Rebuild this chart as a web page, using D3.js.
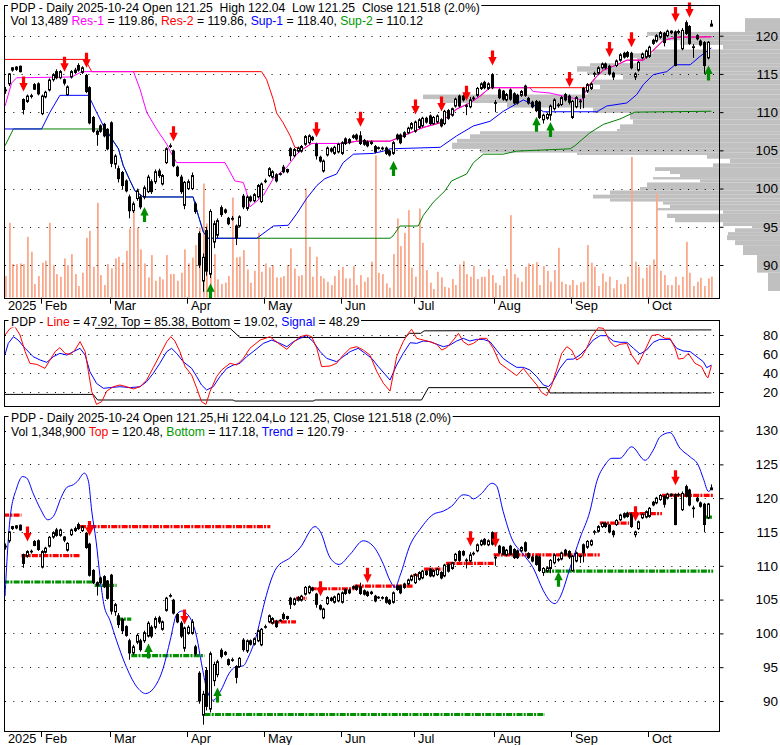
<!DOCTYPE html>
<html>
<head>
<meta charset="utf-8">
<script src="https://cdn.jsdelivr.net/npm/d3@7/dist/d3.min.js"></script>
<style>
html,body{margin:0;padding:0;background:#fff;}
svg{display:block;}
text{font-family:"Liberation Sans",Arial,Helvetica,sans-serif;white-space:pre;}
</style>
</head>
<body>
<svg id="chart" width="780" height="745" xmlns="http://www.w3.org/2000/svg"></svg>
<script>
// ---------------- DATA ----------------
const firstDate = "2025-01-17";
const marketHolidays = ["2025-01-20","2025-02-17","2025-04-18","2025-05-26","2025-06-19","2025-07-04","2025-09-01"];

const openP = [
112.8,113.7,115.5,115.9,116.0,111.65,111.4,112.05,113.6,113.7,
109.8,112.0,112.9,114.25,115.3,114.5,114.25,112.3,114.6,115.5,
116.1,115.2,114.8,113.2,109.3,107.5,108.2,108.4,107.75,108.6,
103.2,102.6,102.1,101.0,98.9,97.1,98.7,98.9,98.9,99.6,
100.9,100.9,102.3,100.6,103.4,105.5,104.9,102.8,101.5,97.8,
100.0,100.0,98.0,94.1,87.9,94.5,88.8,93.0,93.9,97.5,
97.2,96.1,96.0,95.1,95.1,99.0,97.4,98.9,98.4,98.9,
98.3,100.9,101.7,101.5,101.8,101.85,102.8,102.5,105.2,104.3,
104.9,104.9,105.8,106.0,106.7,105.8,104.1,102.3,104.4,105.2,
104.6,104.8,104.6,106.5,106.4,106.9,107.0,106.9,106.3,106.1,
106.1,105.5,105.25,105.3,105.3,104.9,104.6,107.0,107.0,107.3,
107.3,107.9,107.5,108.0,108.2,109.2,109.5,108.5,108.7,109.0,
108.5,110.2,109.6,110.8,112.1,112.1,110.75,110.7,111.75,112.2,
113.1,113.9,113.1,114.9,111.15,112.9,112.75,111.6,112.9,112.4,
112.2,112.2,113.4,111.8,111.3,111.4,111.3,109.0,109.2,109.6,
110.45,110.85,111.0,112.3,112.1,109.3,110.7,111.35,113.1,112.75,
113.1,114.95,115.1,115.8,116.3,116.0,115.1,116.1,116.8,117.7,
117.8,117.7,114.6,115.5,117.1,117.2,117.3,119.4,119.3,119.8,
120.3,120.0,120.6,120.5,120.45,118.3,121.7,121.2,118.45,120.0,
119.3,119.1,117.1,121.25];
const highP = [
113.3,115.1,115.9,116.0,116.1,111.8,112.3,112.4,113.8,113.9,
112.3,112.8,114.4,115.1,115.6,115.5,114.4,113.5,115.5,115.8,
116.4,116.0,115.0,113.4,109.5,107.7,108.4,108.6,107.9,108.8,
104.5,103.0,102.3,101.2,99.2,98.3,100.0,99.2,100.4,101.8,
101.2,102.5,102.6,101.9,105.4,105.9,105.1,103.0,101.8,101.0,
101.2,102.1,98.3,94.4,91.5,95.0,97.3,95.8,96.1,97.8,
97.4,96.3,96.4,95.3,96.5,99.3,99.1,99.1,99.4,100.6,
100.8,101.3,102.8,102.4,102.0,102.1,103.1,102.6,105.4,105.3,
105.5,105.7,107.0,107.1,106.9,106.0,104.3,103.8,105.5,105.4,
105.6,106.0,106.2,106.7,106.6,107.1,107.2,107.5,106.5,106.3,
106.3,105.7,105.5,105.5,105.5,105.1,106.2,107.2,107.2,107.5,
108.1,108.7,108.9,109.2,109.4,109.4,109.7,109.5,109.7,109.2,
110.3,110.4,110.6,111.9,112.3,112.3,111.1,112.0,112.1,113.3,
113.9,114.1,113.9,115.1,111.6,113.1,112.9,112.5,113.1,112.6,
112.4,112.9,113.6,112.0,111.5,111.6,111.5,109.8,109.9,111.0,
111.8,111.2,112.1,112.5,112.3,111.6,112.1,111.7,113.3,113.8,
113.9,115.3,116.0,116.5,116.5,116.2,115.3,116.9,117.7,117.9,
118.0,117.9,115.2,116.7,117.8,118.2,118.7,119.6,120.2,120.6,
120.5,120.8,120.7,120.7,120.8,121.0,122.0,121.4,118.9,120.2,
119.5,119.3,119.3,122.04];
const lowP = [
112.4,113.4,115.3,115.4,115.2,109.7,111.2,111.8,112.9,112.2,
109.6,111.8,112.7,114.0,114.3,114.3,113.5,112.1,114.4,115.0,
115.3,115.0,112.5,108.4,107.3,105.6,107.3,106.7,105.0,102.8,
102.6,100.8,99.9,99.5,96.1,96.8,98.4,97.3,98.6,99.4,
99.3,100.6,101.4,100.4,103.2,105.3,102.8,101.5,99.3,97.3,
99.8,99.8,96.7,89.6,86.5,88.6,88.3,92.2,93.5,96.3,
96.7,95.2,95.8,92.6,94.9,97.3,97.1,98.2,98.2,98.7,
98.1,100.7,101.5,101.3,100.8,101.7,102.0,102.0,103.6,104.1,
104.7,104.7,105.6,105.8,106.2,103.8,103.4,102.1,104.2,104.7,
104.4,104.6,104.4,105.7,105.8,106.5,106.3,105.7,105.6,105.4,
105.7,104.6,105.1,105.0,104.4,104.2,104.4,106.3,105.8,106.6,
107.1,107.7,107.3,107.8,108.0,108.5,108.3,108.3,108.5,108.0,
108.3,109.0,109.4,110.6,110.6,111.4,109.6,110.5,111.5,112.0,
112.9,113.0,112.9,113.0,110.0,111.7,111.5,111.4,111.5,111.0,
111.0,112.0,112.0,111.0,110.5,110.0,109.1,108.5,109.0,108.9,
110.2,110.6,110.8,111.4,111.0,109.1,110.5,110.4,110.5,112.5,
112.9,114.6,114.9,115.6,115.6,114.8,114.2,115.9,116.6,117.0,
117.1,115.6,114.2,115.3,116.9,117.0,117.1,118.8,119.1,119.6,
118.6,119.8,120.2,116.0,120.2,118.1,120.1,118.8,117.1,119.4,
118.6,115.0,116.9,121.25];
const closeP = [
112.9,115.0,115.8,115.6,115.3,110.35,112.1,112.15,113.0,112.4,
112.1,112.6,114.2,114.9,114.5,115.3,113.8,113.3,115.3,115.2,
115.5,115.8,112.7,108.6,107.5,107.1,107.5,106.9,105.2,103.3,
104.25,101.3,100.4,99.7,97.1,98.0,99.7,97.6,100.1,101.5,
99.6,102.2,101.7,101.7,105.2,105.6,103.0,101.7,99.6,100.8,
100.9,101.7,97.0,90.0,91.0,89.2,97.0,95.4,95.8,96.6,
96.9,95.4,96.1,93.5,96.3,97.6,98.9,98.4,99.2,100.4,
100.6,101.0,102.6,102.2,101.0,101.95,102.2,102.2,104.3,105.1,
105.3,105.5,106.8,106.9,106.4,104.3,103.6,103.6,105.3,104.9,
105.4,105.8,106.0,105.9,106.0,106.7,106.5,105.9,105.8,105.6,
105.9,104.8,105.35,105.2,104.6,104.4,106.0,106.5,106.0,106.8,
107.9,108.5,108.7,109.0,109.2,108.7,108.5,109.3,109.5,108.2,
110.1,109.2,110.45,111.7,110.8,111.6,110.85,111.6,111.85,113.1,
113.7,113.2,113.7,113.2,111.25,111.9,111.7,112.3,111.7,111.2,
111.2,112.7,112.2,111.2,110.7,110.2,109.3,109.6,109.7,110.8,
111.6,110.95,111.9,111.6,111.3,111.4,111.9,111.45,111.9,113.6,
113.7,115.05,115.8,116.3,115.8,115.0,114.6,116.7,117.5,117.2,
117.3,115.8,115.0,116.5,117.6,118.0,118.5,119.0,120.0,120.4,
119.1,120.6,120.4,116.1,120.55,120.7,120.3,119.0,118.55,119.6,
118.8,116.1,119.14,121.518];
// volume, thousands of shares
const volumeK = [
1385,4793,2151,2151,2194,2151,3898,2939,873,1385,
2237,2364,4793,2087,1512,1342,2513,2087,2790,1512,
746,1598,3834,4281,1981,6071,1448,809,2151,1874,
2513,2620,2237,3003,4430,5495,4494,3089,2194,1299,
2726,1086,1342,1172,2726,1512,1512,1086,1598,3089,
2194,2556,3365,4494,7306,4750,5495,2790,1172,873,
959,1385,6411,2577,2620,3046,1811,959,1725,4154,
1661,2194,1938,2087,1299,1299,1385,2087,3152,1874,
1385,1448,6986,3259,1342,2620,1385,1235,1022,809,
1385,1768,1981,1235,1235,2024,809,1448,1022,1299,
2300,9116,1598,1512,916,
639,2790,5069,3302,4154,5602,1917,1342,5708,3515,
1768,959,554,1661,1299,703,639,1193,809,2130,
2343,1512,1342,2024,1193,1342,1342,1832,1448,959,
809,1385,1832,5282,1512,1278,1022,1981,2194,2151,
2279,809,2024,1725,1022,1768,3195,1022,873,809,
1129,809,980,1022,3365,2237,1981,746,1555,1022,
1342,596,1129,873,873,1342,9010,2300,1981,1235,
1938,2087,2450,6667,1725,1448,809,809,1342,809,
1342,3578,1598,746,1022,1278,746,1235,1349];

// volume-by-price profile: price edges (descending) and relative volume per band
const profileEdges = [122.3,120.5,120.0,119.4,118.8,118.2,117.7,117.1,116.4,116.0,115.3,114.9,114.25,113.6,113.0,112.3,111.7,111.2,110.6,109.9,109.05,108.4,107.8,107.5,107.1,106.5,106.0,105.2,104.7,104.4,103.9,103.3,102.8,102.3,101.9,101.5,101.2,100.8,100.2,99.75,99.2,98.7,98.3,97.9,97.45,97.15,96.7,96.15,95.6,95.1,94.8,94.3,93.9,93.25,92.6,91.3,89.0,86.6];
const profileVol = [35,133,123,100,57,127,150,143,190,203,193,157,187,180,192,357,337,273,187,150,147,160,163,300,310,323,328,300,203,73,50,67,125,110,100,127,80,133,140,170,187,170,117,110,123,57,113,105,57,28,45,52,53,45,37,23,12];

// support / resistance lines, [bar index, price]
const res2Line = [[0,116.9],[21.9,116.9],[23.7,115.3],[70.1,115.3],[71.5,114.25],[73.3,111.65],[74.2,109.9],[76,108.6],[77.9,106.9],[79.2,105.4],[81.5,105.2],[83.8,105.9],[92.4,105.9],[96.1,106.2],[105.2,106.2],[109.8,107.1],[114.3,108],[118.9,108.6],[123.4,110.4],[127,111.2],[129.8,112.1],[132.5,113.2],[158.9,113.2],[161.7,114.7],[163.5,115.5],[167.2,116.2],[169.9,116.8],[174.4,116.8],[177.1,118.1],[179.9,119.4],[183.5,119.8],[193,119.86]];
const res1Line = [[0,110.8],[1.8,113.8],[3.2,114.5],[18.2,114.6],[21,115.3],[35.1,115.3],[36.9,113],[38.7,110],[41.4,107.8],[44.2,105.8],[45.1,104.9],[46.9,103.4],[60.1,103.4],[62.8,101],[65.1,100.8],[66,99.5],[66.9,97.6],[70.6,99.1],[73.3,101.3],[77,102.8],[79.7,104.5],[81.5,105.2],[83.8,105.9],[92.4,105.9],[96.1,106.2],[105.2,106.2],[109.8,107.1],[114.3,108],[118.9,108.6],[123.4,110.4],[127,111.2],[129.8,112.1],[132.5,113.2],[143.4,113.2],[144.3,112.7],[148.9,112.5],[152.5,112.1],[157.6,111.6],[158.9,113],[161.7,114.7],[163.5,115.5],[167.2,116.2],[169.9,116.8],[174.4,116.8],[177.1,118.1],[179.9,119.4],[183.5,119.8],[193,119.86]];
const sup1Line = [[0,107.8],[10,107.8],[12.3,110],[15,112.2],[22.8,112.2],[25,110],[26.9,108.2],[29.6,106.2],[31,105.2],[32.3,103],[34.2,101],[35.5,99.7],[37.8,98.9],[51.4,98.9],[52.8,96.5],[54.2,94.3],[55.5,93.5],[68.8,93.5],[73.3,95.1],[77.4,95.2],[79.7,96.7],[82.4,98.7],[85.2,100.4],[87.4,101.3],[90.6,101.9],[92.4,103.4],[95.2,104.5],[100.6,104.6],[103.4,104.9],[105.2,105.2],[118.9,105.4],[123.4,106.9],[128,108.2],[132.5,108.8],[136.1,110.1],[141.6,111.6],[144.3,111],[147.1,110.05],[161.7,110.05],[164.4,110.8],[169.9,111.2],[172.6,112.3],[174.4,113.6],[177.1,114.9],[180.8,115.3],[183.1,116.2],[187.2,116.2],[189.9,117.3],[193,118.4]];
const sup2Line = [[0,105.6],[2.3,107.8],[27.6,107.8],[29.6,106.2],[31,105.2],[32.3,103],[34.2,101],[35.5,99.7],[37.8,98.9],[51.4,98.9],[52.8,96.5],[54.2,94.3],[55.5,93.5],[105.2,93.5],[106,93.8],[107.9,95.1],[112.9,95.1],[114.3,96.5],[117,98.2],[120.2,99.7],[122,101],[126.1,101.9],[128,103.4],[130.7,104.5],[136.1,104.5],[139.8,104.9],[154.4,105.2],[155.7,105.6],[159.8,107.3],[163.5,108.4],[168,109.1],[172.1,110],[193,110.12]];

// signals, [bar index, price at arrow tip]
const topSellSignals = [[5,112.7],[16,115.3],[22,115.8],[46,106.2],[85,106.7],[97,108.1],[112,109.7],[119,110.1],[126,111.5],[133,116.1],[154,113.3],[165,117.2],[171,118.5],[183,121.8],[187,122.4]];
const topBuySignals = [[38,97.6],[56,87.6],[106,103.6],[145,109.4],[149,108.7],[192,116.1]];
const botSellSignals = [[6,113.6],[23,114.4],[49,101.3],[86,105.5],[99,107.5],[127,112.9],[134,112.75],[172,116.6],[183,121.9]];
const botBuySignals = [[39,98.5],[58,92.0],[151,109.1]];

// oscillator panel, [bar index, value]
const oscLine = [[0,80],[1.4,87],[2.7,88.8],[4.1,80],[5.5,62.5],[6.8,50.2],[8.7,49.1],[10.9,44.9],[12.3,53.7],[13.7,62.5],[15,66.7],[16.4,60.7],[17.8,59.6],[19.1,64.2],[20.5,73],[21.9,62.5],[22.8,41.4],[23.7,20.4],[25,7],[26.4,9.8],[27.8,21],[29.6,25.6],[31.4,27.4],[33.2,25.6],[35.1,23.2],[36.9,25.6],[38.7,32.6],[40.5,45.6],[42.3,58.9],[44.2,73],[45.3,78.2],[46.4,73.7],[47.8,62.5],[49.2,46.7],[51,37.9],[52.4,23.9],[53.7,9.8],[54.9,7],[56,20.4],[57.8,36.1],[59.2,43.2],[61.5,50.2],[63.3,48.4],[65.1,55.4],[66.9,66],[69.7,74.7],[72.4,78.2],[74.7,71.2],[77,64.9],[78.8,72.3],[80.6,78.2],[82.4,80],[83.8,78.2],[85.2,66],[86.5,46.7],[88.8,47.4],[90.6,50.2],[92.4,58.9],[94.3,66],[96.1,67.7],[97.9,64.2],[99.7,58.9],[101.6,41.4],[103.4,29.1],[105.2,21],[107,57.2],[108.8,73],[110.2,81.8],[111.1,86],[112.5,76.5],[114.3,74.7],[116.1,73],[118,70.2],[119.3,64.2],[120.7,66.7],[122.5,74.7],[123.9,81.8],[125.2,73],[126.6,69.5],[128,71.2],[129.8,76.5],[131.6,76.5],[133.4,66],[135.2,50.2],[137.1,44.9],[139.8,37.2],[141.6,44.9],[143.4,36.1],[145.3,27.4],[146.6,19.6],[148,16.1],[149.4,27.4],[150.7,43.2],[152.1,60.7],[153.5,67.7],[154.8,64.2],[156.2,53.7],[157.6,57.2],[158.9,66],[160.3,78.2],[162.1,87.7],[163.5,87],[165.3,73],[166.7,67.7],[168,70.2],[169.9,71.2],[171.2,58.9],[173,49.1],[174.9,64.2],[176.7,79.3],[178.5,80.7],[180.3,76.5],[181.7,76.5],[183.1,66],[184,54.7],[185.3,55.4],[186.7,60.7],[188.5,50.2],[190.3,46.7],[191.7,36.1],[192.1,35.1],[193,47.92]];
const oscSignal = [[0,59.6],[0.9,71.2],[2.3,78.2],[3.6,74.7],[5.5,66],[7.7,57.2],[9.6,53.7],[11.4,51.2],[13.2,57.2],[15,60.7],[16.9,58.9],[18.7,62.5],[20.5,66],[21.9,58.9],[23.2,41.4],[25,29.1],[26.9,23.9],[28.7,24.6],[31.4,25.6],[34.2,24.6],[36.9,25.6],[38.7,30.9],[40.5,39.6],[42.3,50.2],[44.2,62.5],[45.5,66],[46.9,60.7],[48.7,51.9],[51,44.9],[52.4,36.1],[53.7,27.4],[55.1,22.1],[56.9,25.6],[58.7,36.1],[60.6,44.9],[62.4,48.4],[64.2,50.2],[66,57.2],[67.8,62.5],[70.6,71.2],[72.9,74.7],[75.1,71.2],[77,67.7],[78.8,73],[80.6,76.5],[82.4,79.3],[84.2,73],[86.1,62.5],[87.9,55.4],[90.6,51.9],[92.4,57.2],[94.3,62.5],[96.5,66],[98.4,60.7],[100.2,55.4],[102,46.7],[105.2,32.6],[107,48.4],[108.8,60.7],[110.7,71.9],[112.5,71.2],[114.3,73.7],[116.1,73],[118,70.2],[119.8,67.7],[121.6,69.5],[123.4,73.7],[125.2,76.5],[127,73.7],[128.9,75.4],[130.7,75.4],[132.5,73],[134.3,64.2],[136.1,55.4],[138,50.2],[139.8,46],[141.6,46],[143.4,43.2],[145.3,36.1],[147.1,27.4],[148.5,25.6],[149.8,31.6],[151.6,44.9],[153.5,54.4],[155.3,54.7],[157.1,58.9],[158.9,66],[160.7,74.7],[162.6,79.3],[164.4,79.3],[166.2,73.7],[168,72.3],[169.9,72.3],[171.7,66],[173.5,60],[175.3,64.2],[177.1,72.3],[178.9,75.4],[181.7,75.4],[183.5,66],[185.3,63.2],[187.2,62.5],[189,57.2],[190.8,51.9],[191.7,45.6],[193,48.29]];
const oscTop = [[24.6,87],[61.5,87],[64.2,77.4],[109.3,77.4],[110.5,81.8],[113.6,81.8],[114.5,84.4],[193,85.38]];
const oscBottom = [[0,17.5],[24.1,17.5],[25.3,11.6],[62.3,11.6],[62.8,10.5],[84.2,10.5],[84.7,11.6],[113.8,11.6],[115.7,24.6],[148,24.6],[148.9,19.02],[193,19.02]];

// lower panel: trend curve and top/bottom levels [start bar, end bar, price]
const trendLine = [[0,105.5],[1.4,117.1],[3.2,121.5],[4.8,123.2],[5.9,123],[7.7,120.7],[9.6,118.5],[11.7,116.8],[13.2,117.3],[15.5,120.3],[16.9,121.6],[18.7,122],[19.8,122.5],[21.7,123.7],[22.8,122.5],[23.7,118.1],[24.9,113.6],[26,108.2],[27,104.3],[28.7,101.9],[30.5,98.9],[32.8,95.5],[36,92.1],[38.4,91.1],[40.5,91.8],[43.3,95],[45.1,98.9],[46.9,102.8],[48.3,103.3],[50.5,102.35],[52.4,99.4],[53.7,95.5],[55.1,91.8],[56.9,90.1],[58.7,91.3],[61.5,94.3],[62.8,95],[65.1,95.2],[66.5,96.5],[68.8,99.9],[70.1,102.8],[71,104.8],[74.2,109.7],[77.9,111.2],[80.6,112.65],[84.7,115.8],[86.1,115.1],[88.8,111.2],[91.3,110.2],[94.3,111.7],[97.9,113.7],[100.6,112.9],[103.4,110.2],[105.2,107.8],[106.6,106.8],[107.9,108.5],[110.7,113.1],[113.4,115.4],[117,117.6],[119.8,118.1],[122,118.8],[125.2,120.5],[126.6,120.4],[128,119.9],[130.2,120.7],[133,122.2],[134.2,121.9],[136.1,118.05],[138.4,114.1],[141.6,111.7],[144.3,109.7],[147.1,106.3],[148.9,104.8],[150.3,104.4],[151.6,105.3],[154.4,109.7],[157.1,114.1],[159.8,118.05],[161.7,122.5],[163.9,124.9],[165.8,125.9],[168,125.9],[171.2,127.6],[174.9,125.6],[177.1,127.1],[179,129.1],[181.7,129.7],[184.4,127.4],[187.2,126.1],[189.4,124.9],[190.8,122.9],[192.2,121.0],[193,121.4]];
const topLevels = [[0,4,117.5],[5,20,111.5],[21,72,115.8],[73,79,101.7],[80,82,105.2],[84,95,106.6],[96,111,107.0],[112,114,108.6],[115,119,109.5],[121,133,110.35],[134,162,111.6],[163,170,116.3],[171,179,117.7],[180,193,120.4]];
const bottomLevels = [[0,24,107.6],[25,30,107.1],[31,34,102.1],[35,54,96.7],[55,147,88.0],[148,193,109.2],[192,193,117.2]];

const topPriceTicks = [90,95,100,105,110,115,120];
const oscTicks = [20,40,60,80];
const botPriceTicks = [90,95,100,105,110,115,120,125,130];

const topTitle1 = [["PDP - Daily 2025-10-24 Open 121.25  High 122.04  Low 121.25  Close 121.518 (2.0%)","#000"]];
const topTitle2 = [["Vol 13,489 ","#000"],["Res-1","#ff00ff"],[" = 119.86, ","#000"],["Res-2","#ff0000"],[" = 119.86, ","#000"],["Sup-1","#0000ff"],[" = 118.40, ","#000"],["Sup-2","#009900"],[" = 110.12","#000"]];
const midTitle = [["PDP - ","#000"],["Line","#ff0000"],[" = 47.92, Top = 85.38, Bottom = 19.02, ","#000"],["Signal","#0000ff"],[" = 48.29","#000"]];
const botTitle1 = [["PDP - Daily 2025-10-24 Open 121.25,Hi 122.04,Lo 121.25, Close 121.518 (2.0%)","#000"]];
const botTitle2 = [["Vol 1,348,900 ","#000"],["Top","#ff0000"],[" = 120.48, ","#000"],["Bottom","#009900"],[" = 117.18, ","#000"],["Trend","#0000ff"],[" = 120.79","#000"]];

// ---------------- BUILD ----------------
const FONT = '"Liberation Sans", Arial, Helvetica, sans-serif';
const N = closeP.length;
const bars = closeP.map((c,i)=>({i, o:openP[i], h:highP[i], l:lowP[i], c, v:volumeK[i]}));

// trading calendar
const dates = (()=>{
  const out=[]; let d=new Date(firstDate+"T00:00:00Z");
  const hol=new Set(marketHolidays);
  while(out.length<N){
    const iso=d.toISOString().slice(0,10), wd=d.getUTCDay();
    if(wd!==0&&wd!==6&&!hol.has(iso)) out.push(new Date(d));
    d=new Date(d.getTime()+86400000);
  }
  return out;
})();

const L=4, R=719;
const PT={y0:5,y1:297.7}, PM={y0:320,y1:405.7}, PB={y0:415.7,y1:731};
const x = d3.scaleLinear().domain([0,N-1]).range([5,711.4]);
const yT = d3.scaleLinear().domain([85.72,124.02]).range([PT.y1,PT.y0]);
const yM = d3.scaleLinear().domain([5.6,95.8]).range([PM.y1,PM.y0]);
const yB = d3.scaleLinear().domain([85.56,132.2]).range([PB.y1,PB.y0]);
const yV = d3.scaleLinear().domain([0,9600]).range([PT.y1,PT.y1-150]);
const xProf = d3.scaleLinear().domain([0,400]).range([780,380]);

const svg = d3.select("#chart");
const defs = svg.append("defs");
[["clipT",PT],["clipM",PM],["clipB",PB]].forEach(([id,p])=>{
  defs.append("clipPath").attr("id",id).append("rect").attr("x",L).attr("y",p.y0).attr("width",R-L).attr("height",p.y1-p.y0);
});

function grid(g, scale, vals){
  g.selectAll("line.grid").data(vals).join("line").attr("class","grid")
    .attr("x1",L+1).attr("x2",R).attr("y1",d=>Math.round(scale(d))+0.5).attr("y2",d=>Math.round(scale(d))+0.5)
    .attr("stroke","#000").attr("stroke-width",1).attr("stroke-dasharray","1,7.33");
}
function lineOf(g, data, yS, color, curve, width){
  g.append("path").datum(data)
   .attr("d", d3.line().x(d=>x(d[0])).y(d=>yS(d[1])).curve(curve||d3.curveLinear))
   .attr("fill","none").attr("stroke",color).attr("stroke-width",width||1);
}
function candles(g, yS){
  const cg = g.selectAll("g.c").data(bars).join("g").attr("class","c");
  cg.append("line").attr("x1",d=>Math.round(x(d.i))+0.5).attr("x2",d=>Math.round(x(d.i))+0.5)
    .attr("y1",d=>yS(d.h)).attr("y2",d=>yS(d.l)).attr("stroke","#000").attr("stroke-width",1);
  cg.append("rect").attr("x",d=>Math.round(x(d.i))-0.5).attr("width",2)
    .attr("y",d=>yS(Math.max(d.o,d.c))).attr("height",d=>Math.max(0,yS(Math.min(d.o,d.c))-yS(Math.max(d.o,d.c))))
    .attr("fill",d=>d.c>=d.o?"#fff":"#000").attr("stroke","#000").attr("stroke-width",1);
}
const downArrow="M0,0 L-4.2,-8.5 L-1.6,-8.5 L-1.6,-15 L1.6,-15 L1.6,-8.5 L4.2,-8.5 Z";
const upArrow="M0,0 L-4.2,8.5 L-1.6,8.5 L-1.6,15 L1.6,15 L1.6,8.5 L4.2,8.5 Z";
function arrows(g, data, yS, path, color){
  g.selectAll(null).data(data).join("path").attr("d",path)
   .attr("transform",d=>`translate(${Math.round(x(d[0]))+0.5},${yS(d[1])})`).attr("fill",color);
}
function frame(p){
  svg.append("rect").attr("x",L+0.5).attr("y",Math.round(p.y0)+0.5).attr("width",R-L)
    .attr("height",Math.round(p.y1)-Math.round(p.y0)).attr("fill","none").attr("stroke","#000").attr("stroke-width",1);
}
function rightAxis(scale, vals){
  const g = svg.append("g").attr("transform",`translate(${R+0.5},0)`)
    .call(d3.axisRight(scale).tickValues(vals).tickSize(4).tickFormat(d3.format("d")));
  g.select(".domain").remove();
  g.attr("font-family",FONT).attr("font-size",13.5);
  g.selectAll(".tick line").attr("stroke","#000");
  g.selectAll(".tick text").attr("x",58.5).attr("text-anchor","end").attr("fill","#000");
}
function title(parts, xPos, yPos, cover){
  const t = svg.append("text").attr("x",xPos).attr("y",yPos).attr("font-size",12.2).attr("font-family",FONT);
  t.selectAll("tspan").data(parts).join("tspan").text(d=>d[0]).attr("fill",d=>d[1]);
  if(cover){
    const w = t.node().getComputedTextLength();
    svg.insert("rect", function(){return t.node();}).attr("x",xPos-2.5).attr("y",yPos-10).attr("width",w+4).attr("height",12).attr("fill","#fff");
  }
}
function monthAxis(yBase, yLabel){
  const g = svg.append("g");
  const starts = bars.filter(d=>d.i>0 && dates[d.i].getUTCMonth()!==dates[d.i-1].getUTCMonth());
  g.selectAll("line").data(starts).join("line")
    .attr("x1",d=>Math.round(x(d.i))-0.5).attr("x2",d=>Math.round(x(d.i))-0.5)
    .attr("y1",yBase).attr("y2",yBase+6).attr("stroke","#000");
  g.selectAll("text.m").data(starts).join("text").attr("class","m")
    .attr("x",d=>Math.round(x(d.i))+3).attr("y",yLabel).attr("font-size",12.8).attr("font-family",FONT)
    .text(d=>d3.utcFormat("%b")(dates[d.i]));
  g.append("text").attr("x",8).attr("y",yLabel).attr("font-size",12.8).attr("font-family",FONT)
    .text(d3.utcFormat("%Y")(dates[0]));
}

// ---- top panel ----
const gProf = svg.append("g");
gProf.selectAll("rect").data(profileVol).join("rect")
  .attr("x",d=>xProf(d)).attr("width",d=>780-xProf(d))
  .attr("y",(d,i)=>yT(profileEdges[i])).attr("height",(d,i)=>yT(profileEdges[i+1])-yT(profileEdges[i]))
  .attr("fill","#c0c0c0");
const gT = svg.append("g").attr("clip-path","url(#clipT)");
gT.selectAll("rect.v").data(bars).join("rect").attr("class","v")
  .attr("x",d=>Math.round(x(d.i))).attr("width",1.8)
  .attr("y",d=>yV(d.v)).attr("height",d=>PT.y1-yV(d.v)).attr("fill","#fba98c");
grid(gT, yT, topPriceTicks);
lineOf(gT, sup2Line, yT, "#008000");
lineOf(gT, sup1Line, yT, "#0000ff");
lineOf(gT, res2Line, yT, "#ff0000");
lineOf(gT, res1Line, yT, "#ff00ff");
candles(gT, yT);
arrows(svg, topSellSignals, yT, downArrow, "#ff0000");
arrows(svg, topBuySignals, yT, upArrow, "#008c00");
frame(PT);
rightAxis(yT, topPriceTicks);
monthAxis(PT.y1, 310);

// ---- middle panel ----
const gM = svg.append("g").attr("clip-path","url(#clipM)");
grid(gM, yM, oscTicks);
lineOf(gM, oscTop, yM, "#000");
lineOf(gM, oscBottom, yM, "#000");
lineOf(gM, oscSignal, yM, "#0000ff");
lineOf(gM, oscLine, yM, "#ff0000");
frame(PM);
rightAxis(yM, oscTicks);

// ---- bottom panel ----
const gB = svg.append("g").attr("clip-path","url(#clipB)");
grid(gB, yB, botPriceTicks);
function levels(data, color){
  gB.selectAll(null).data(data).join("line")
    .attr("x1",d=>x(d[0])-1.8).attr("x2",d=>x(d[1])+1.8).attr("y1",d=>yB(d[2])).attr("y2",d=>yB(d[2]))
    .attr("stroke",color).attr("stroke-width",3.2).attr("stroke-dasharray","6,1.2,2,1.2");
}
levels(bottomLevels, "#009000");
levels(topLevels, "#ff0000");
lineOf(gB, trendLine, yB, "#0000ff", d3.curveMonotoneX);
candles(gB, yB);
arrows(svg, botSellSignals, yB, downArrow, "#ff0000");
arrows(svg, botBuySignals, yB, upArrow, "#008c00");
frame(PB);
rightAxis(yB, botPriceTicks);
monthAxis(PB.y1, 742.5);

// ---- titles ----
title(topTitle1, 10.5, 12, true);
title(topTitle2, 10.5, 25, false);
title(midTitle, 11, 325.5, true);
title(botTitle1, 11, 421.7, true);
title(botTitle2, 11, 435.7, true);
</script>
</body>
</html>
